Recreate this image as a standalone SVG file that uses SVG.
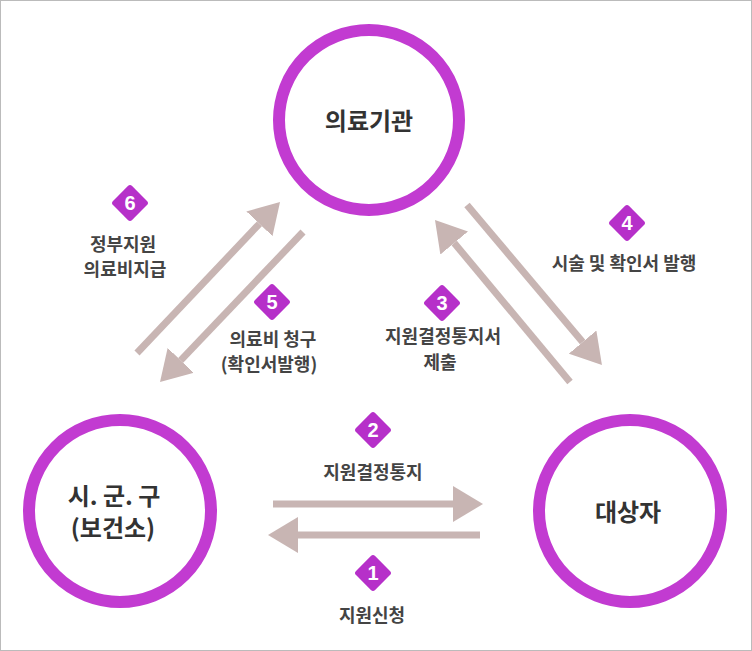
<svg xmlns="http://www.w3.org/2000/svg" width="752" height="651" viewBox="0 0 752 651">
<style>
.ring{fill:#fff;stroke:#c23bd1;stroke-width:12}
.big{font-family:"Noto Sans CJK KR","Noto Sans",sans-serif;font-size:24px;font-weight:700;fill:#333;text-anchor:middle}
.lbl{font-family:"Noto Sans CJK KR","Noto Sans",sans-serif;font-size:18px;font-weight:700;fill:#444;text-anchor:middle}
.badge{fill:#b630c9}
.num{font-family:"Liberation Sans","Noto Sans",sans-serif;font-size:20px;font-weight:bold;fill:#fff;text-anchor:middle}
.arr{stroke:#c8b5b3;stroke-width:7;fill:none;marker-end:url(#head)}
</style>
<defs>
<marker id="head" markerUnits="userSpaceOnUse" markerWidth="30" markerHeight="36" viewBox="0 0 30 36" refX="0" refY="18" orient="auto">
<path d="M0,0 L30,18 L0,36 z" fill="#c8b5b3"/>
</marker>
<rect id="dia" x="-13.5" y="-13.5" width="27" height="27" rx="3" transform="rotate(45)"/>
</defs>
<rect x="0.5" y="0.5" width="751" height="650" fill="#fff" stroke="#bbb" stroke-width="1"/>
<g id="connectors">
<line class="arr" x1="273" y1="504" x2="453" y2="504"/>
<line class="arr" x1="480" y1="535" x2="298" y2="535"/>
<line class="arr" x1="137" y1="353" x2="259.4" y2="223.8"/>
<line class="arr" x1="303" y1="232" x2="180.7" y2="360.3"/>
<line class="arr" x1="570" y1="382" x2="454.2" y2="243"/>
<line class="arr" x1="467" y1="205" x2="582.6" y2="342.1"/>
</g>
<g id="node-hospital">
<circle class="ring" cx="369" cy="120" r="90"/>
<text class="big" x="369" y="130">의료기관</text>
</g>
<g id="node-city">
<circle class="ring" cx="120" cy="511" r="91"/>
<text class="big" x="114" y="505">시. 군. 구</text>
<text class="big" x="113" y="537">(보건소)</text>
</g>
<g id="node-target">
<circle class="ring" cx="630" cy="511" r="91"/>
<text class="big" x="628" y="521">대상자</text>
</g>
<g id="label-1">
<use href="#dia" class="badge" x="373" y="573"/>
<text class="num" x="373" y="580">1</text>
<text class="lbl" x="372" y="622">지원신청</text>
</g>
<g id="label-2">
<use href="#dia" class="badge" x="373" y="430"/>
<text class="num" x="373" y="437">2</text>
<text class="lbl" x="373" y="479">지원결정통지</text>
</g>
<g id="label-3">
<use href="#dia" class="badge" x="442" y="303"/>
<text class="num" x="442" y="310">3</text>
<text class="lbl" x="443" y="343">지원결정통지서</text>
<text class="lbl" x="440" y="369">제출</text>
</g>
<g id="label-4">
<use href="#dia" class="badge" x="627" y="223"/>
<text class="num" x="627" y="230">4</text>
<text class="lbl" x="624" y="270">시술 및 확인서 발행</text>
</g>
<g id="label-5">
<use href="#dia" class="badge" x="272" y="302"/>
<text class="num" x="272" y="309">5</text>
<text class="lbl" x="273" y="346">의료비 청구</text>
<text class="lbl" x="269" y="371">(확인서발행)</text>
</g>
<g id="label-6">
<use href="#dia" class="badge" x="130" y="203"/>
<text class="num" x="130" y="210">6</text>
<text class="lbl" x="123" y="251">정부지원</text>
<text class="lbl" x="125" y="276">의료비지급</text>
</g>
</svg>
